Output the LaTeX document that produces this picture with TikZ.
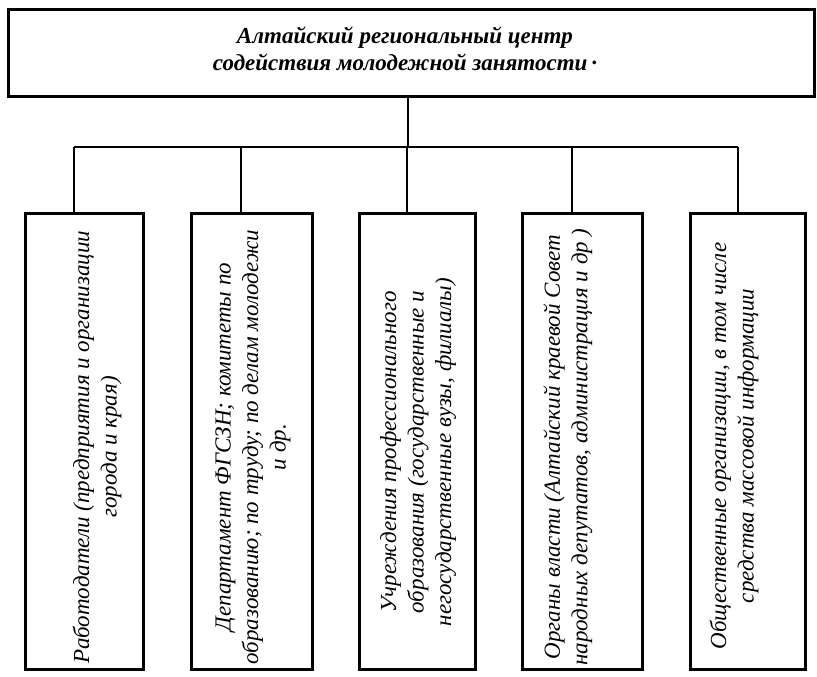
\documentclass[tikz,border=0pt]{standalone}
\usepackage{fontspec}
\setmainfont{Liberation Serif}
\begin{document}
\begin{tikzpicture}[x=1pt,y=-1pt,
  frame/.style={draw, line width=3pt, inner sep=0pt},
  link/.style={line width=2.6pt},
  boxtext/.style={rotate=90, align=center, font=\fontsize{23}{27.5}\selectfont\itshape, inner sep=0pt},
  titletext/.style={align=center, font=\fontsize{23}{27}\selectfont\bfseries\itshape, inner sep=0pt}]
\useasboundingbox (0,0) rectangle (817,677);
% top box
\node[frame, minimum width=806pt, minimum height=87pt] (top) at (411,53.5) {};
\node[titletext] (title) at (405,49) {Алтайский региональный центр\\содействия молодежной занятости\,·};
% bar coordinates
\coordinate (hub) at (408,147);
\coordinate (d1) at (74,147);
\coordinate (d2) at (241,147);
\coordinate (d3) at (407,147);
\coordinate (d4) at (572,147);
\coordinate (d5) at (738,147);
% lower boxes
\node[frame, minimum width=118pt, minimum height=456pt] (b1) at (84,441) {};
\node[frame, minimum width=121pt, minimum height=456pt] (b2) at (251.5,441) {};
\node[frame, minimum width=116pt, minimum height=456pt] (b3) at (417,441) {};
\node[frame, minimum width=120pt, minimum height=456pt] (b4) at (582,441) {};
\node[frame, minimum width=115pt, minimum height=456pt] (b5) at (747.5,441) {};
% texts
\node[boxtext] (t1) at (97,447) {Работодатели (предприятия и организации\\города и края)};
\node[boxtext] (t2) at (253,447) {Департамент ФГСЗН; комитеты по\\образованию; по труду; по делам молодежи\\и др.};
\node[boxtext] (t3) at (418,452) {Учреждения профессионального\\образования (государственные и\\негосударственные вузы, филиалы)};
\node[boxtext] (t4) at (568,447) {Органы власти (Алтайский краевой Совет\\народных депутатов, администрация и др )};
\node[boxtext] (t5) at (734,446) {Общественные организации, в том числе\\средства массовой информации};
% connectors
\draw[link] (hub |- top.south) -- (hub);
\draw[link] (d1) -- (d5);
\draw[link] (d1) -- (d1 |- b1.north);
\draw[link] (d2) -- (d2 |- b2.north);
\draw[link] (d3) -- (d3 |- b3.north);
\draw[link] (d4) -- (d4 |- b4.north);
\draw[link] (d5) -- (d5 |- b5.north);
\end{tikzpicture}
\end{document}
